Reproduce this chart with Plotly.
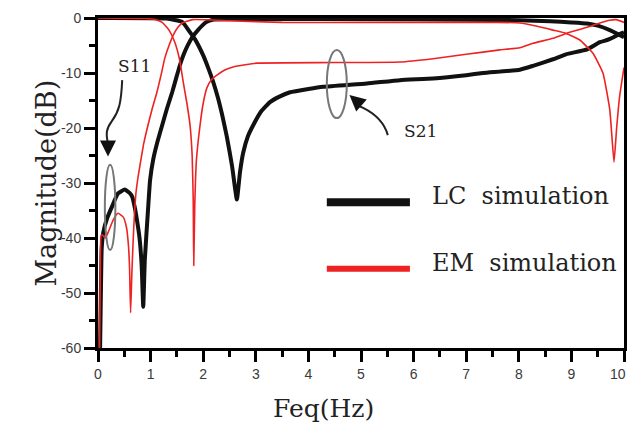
import plotly.graph_objects as go

# ---------------- data ----------------
lc_s11_f = [0.04, 0.055, 0.07, 0.10, 0.17, 0.27, 0.38, 0.51, 0.60, 0.65, 0.70, 0.74, 0.79, 0.83, 0.86,
            0.89, 0.95, 0.99, 1.05, 1.13, 1.22, 1.31, 1.41, 1.49, 1.56, 1.63, 1.71, 1.80, 1.90, 2.05, 2.20,
            3.0, 5.0, 7.0, 8.0, 8.6, 9.0, 9.3, 9.5, 9.73, 9.9, 10.0]
lc_s11_db = [-60, -50, -42, -39, -36.5, -34.2, -31.9, -31.2, -31.8, -32.5, -34.5, -36.7, -40, -45, -52.5,
             -44, -35, -29.5, -25.7, -22.5, -19.5, -16.5, -13.5, -10.8, -8.5, -6.6, -4.9, -3.4, -2.2, -0.8, -0.3,
             -0.2, -0.2, -0.3, -0.4, -0.6, -0.8, -1.0, -1.4, -2.2, -3.0, -3.5]

lc_s21_f = [0.0, 1.3, 1.6, 1.75, 1.84, 2.0, 2.1, 2.19, 2.28, 2.36, 2.45, 2.55, 2.64, 2.70, 2.76, 2.85,
            2.95, 3.1, 3.27, 3.45, 3.65, 4.0, 4.28, 5.11, 5.74, 6.37, 7.0, 7.32, 8.02, 8.27, 8.65, 8.9,
            9.3, 9.54, 9.68, 9.8, 9.92, 10.0]
lc_s21_db = [0, -0.1, -0.7, -2.6, -3.8, -6.8, -9.2, -11.6, -14.5, -17.6, -21.6, -27, -33, -28, -24.5, -21.5,
             -19.5, -17, -15.3, -14.3, -13.5, -12.9, -12.5, -11.9, -11.3, -11, -10.4, -10, -9.4, -8.7, -7.5, -6.6,
             -5.7, -4.4, -4.0, -3.5, -2.9, -2.6]

em_s11_f = [0.03, 0.045, 0.06, 0.09, 0.14, 0.20, 0.29, 0.38, 0.48, 0.54, 0.58, 0.60, 0.62, 0.645, 0.68,
            0.72, 0.76, 0.80, 0.87, 0.95, 1.03, 1.12, 1.20, 1.27, 1.35, 1.43, 1.52, 1.60, 1.80, 2.5, 3.5,
            5.0, 7.0, 7.6, 8.02, 8.35, 8.65, 8.9, 9.16, 9.41, 9.6, 9.73, 9.81, 9.86, 9.92, 10.0]
em_s11_db = [-60, -45, -39.5, -39.5, -40, -38.8, -36.7, -35.5, -36.2, -38, -41.5, -45.5, -53.6, -46, -38,
             -32, -29, -26.7, -22.8, -19.5, -16.5, -13.5, -10.3, -7.3, -5, -3.1, -1.7, -0.9, -0.3, -0.5, -0.8,
             -0.8, -0.8, -0.8, -0.9, -1.5, -2.2, -2.8, -4, -6.4, -10, -16.7, -26.2, -20, -14, -9]

em_s21_f = [0.0, 0.9, 1.10, 1.22, 1.35, 1.46, 1.55, 1.62, 1.69, 1.75, 1.79, 1.81, 1.82, 1.84, 1.87, 1.94,
            2.0, 2.07, 2.15, 2.26, 2.40, 2.57, 2.80, 3.02, 4.5, 5.74, 6.37, 7.0, 7.64, 8.02, 8.27,
            8.65, 8.9, 9.3, 9.54, 9.73, 9.85, 10.0]
em_s21_db = [0, -0.1, -0.3, -0.8, -2.2, -4.4, -7.5, -11.6, -15.5, -19.5, -25, -33, -45, -34, -26, -19.5,
             -15.5, -12.7, -11.3, -10.4, -9.5, -8.9, -8.5, -8.2, -8.1, -8.0, -7.4, -6.6, -5.8, -5.4, -4.6,
             -3.7, -2.8, -1.7, -0.9, -0.4, -0.3, -0.8]

x_tickvals = [0, 1, 2, 3, 4, 5, 6, 7, 8, 9, 10]
x_ticktext = ["0", "1", "2", "3", "4", "5", "6", "7", "8", "9", "10"]
y_tickvals = [0, -10, -20, -30, -40, -50, -60]
y_ticktext = ["0", "-10", "-20", "-30", "-40", "-50", "-60"]

legend_names = ["LC  simulation", "EM  simulation"]

BLACK = "#111111"
RED = "#ee2222"
GRAY = "#777777"
SERIF = "DejaVu Serif"
TICKFONT = dict(family="Liberation Sans", size=14, color="#3a3a3a")

fig = go.Figure()
fig.add_trace(go.Scatter(x=lc_s11_f, y=lc_s11_db, mode="lines",
                         line=dict(color=BLACK, width=4, shape="spline", smoothing=0.4),
                         showlegend=False, hoverinfo="skip"))
fig.add_trace(go.Scatter(x=lc_s21_f, y=lc_s21_db, mode="lines",
                         line=dict(color=BLACK, width=4, shape="spline", smoothing=0.4),
                         showlegend=False, hoverinfo="skip"))
fig.add_trace(go.Scatter(x=em_s11_f, y=em_s11_db, mode="lines",
                         line=dict(color=RED, width=1.6, shape="spline", smoothing=0.4),
                         showlegend=False, hoverinfo="skip"))
fig.add_trace(go.Scatter(x=em_s21_f, y=em_s21_db, mode="lines",
                         line=dict(color=RED, width=1.6, shape="spline", smoothing=0.4),
                         showlegend=False, hoverinfo="skip"))

shapes = []
# ellipses marking S11 and S21
shapes.append(dict(type="circle", xref="x", yref="y", x0=0.13, x1=0.33, y0=-42.2, y1=-26.7,
                   line=dict(color=GRAY, width=2)))
shapes.append(dict(type="circle", xref="x", yref="y", x0=4.35, x1=4.73, y0=-18.2, y1=-5.8,
                   line=dict(color=GRAY, width=2)))
# curved arrow shafts
shapes.append(dict(type="path", xref="x", yref="y",
                   path="M 0.46,-11.3 C 0.44,-15.5 0.40,-17.0 0.26,-18.8 S 0.17,-21.5 0.19,-23.0",
                   line=dict(color="#222222", width=2)))
shapes.append(dict(type="path", xref="x", yref="y",
                   path="M 5.51,-21.3 C 5.45,-19.3 5.30,-17.6 5.05,-16.4 S 4.92,-15.4 4.88,-15.0",
                   line=dict(color="#222222", width=2)))
# legend bars
shapes.append(dict(type="line", xref="x", yref="y", x0=4.35, x1=5.93, y0=-33.5, y1=-33.5,
                   line=dict(color=BLACK, width=8)))
shapes.append(dict(type="line", xref="x", yref="y", x0=4.35, x1=5.93, y0=-45.6, y1=-45.6,
                   line=dict(color=RED, width=6)))

annotations = []
# arrowheads
annotations.append(dict(x=0.19, y=-25.2, xref="x", yref="y", ax=0, ay=-10, text="",
                        showarrow=True, arrowhead=2, arrowsize=1.6, arrowwidth=2, arrowcolor="#111111"))
annotations.append(dict(x=4.78, y=-14.0, xref="x", yref="y", ax=8, ay=7, text="",
                        showarrow=True, arrowhead=2, arrowsize=1.6, arrowwidth=2, arrowcolor="#111111"))
# labels
annotations.append(dict(x=0.70, y=-8.7, xref="x", yref="y", text="S11", showarrow=False,
                        font=dict(family=SERIF, size=17, color="#222222")))
annotations.append(dict(x=6.13, y=-20.5, xref="x", yref="y", text="S21", showarrow=False,
                        font=dict(family=SERIF, size=17, color="#222222")))
annotations.append(dict(x=6.31, y=-32.4, xref="x", yref="y", text=legend_names[0], showarrow=False,
                        xanchor="left", font=dict(family=SERIF, size=24, color="#222222")))
annotations.append(dict(x=6.31, y=-44.6, xref="x", yref="y", text=legend_names[1], showarrow=False,
                        xanchor="left", font=dict(family=SERIF, size=24, color="#222222")))
# last x tick label, kept inside the page
annotations.append(dict(x=x_tickvals[-1], y=-0.0, xref="x", yref="paper", text=x_ticktext[-1],
                        xanchor="right", yanchor="top", xshift=4, yshift=-16, showarrow=False,
                        font=TICKFONT))
# axis titles
annotations.append(dict(x=-0.133, y=0.50, xref="paper", yref="paper", text="Magnitude(dB)",
                        textangle=-90, showarrow=False,
                        font=dict(family=SERIF, size=27, color="#222222")))
annotations.append(dict(x=0.428, y=-0.233, xref="paper", yref="paper", text="Feq(Hz)",
                        showarrow=False, font=dict(family=SERIF, size=25, color="#222222")))

fig.update_layout(
    width=629, height=426,
    margin=dict(l=98, r=5, t=18, b=78, autoexpand=False),
    paper_bgcolor="white", plot_bgcolor="white",
    shapes=shapes, annotations=annotations,
    showlegend=False,
)
fig.update_xaxes(range=[0, 10], tickvals=x_tickvals, ticktext=x_ticktext[:-1] + [""], automargin=False,
                 showgrid=False, zeroline=False, showline=True, linecolor="black", linewidth=3,
                 mirror=True, ticks="outside", ticklen=11, tickwidth=3, tickcolor="black",
                 minor=dict(dtick=0.5, ticks="outside", ticklen=6, tickwidth=3, tickcolor="black"),
                 tickfont=TICKFONT)
fig.update_yaxes(range=[-60, 0], tickvals=y_tickvals, ticktext=y_ticktext, automargin=False,
                 showgrid=False, zeroline=False, showline=True, linecolor="black", linewidth=3,
                 mirror=True, ticks="outside", ticklen=11, tickwidth=3, tickcolor="black",
                 minor=dict(dtick=5, ticks="outside", ticklen=6, tickwidth=3, tickcolor="black"),
                 tickfont=TICKFONT)

fig.write_html("out.html")
